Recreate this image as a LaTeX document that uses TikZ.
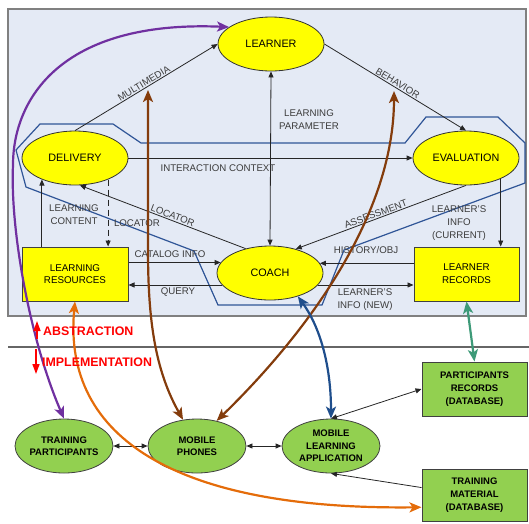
\documentclass[tikz,border=0pt]{standalone}
\usepackage{fontspec}
\setmainfont{Liberation Sans}
\usetikzlibrary{shapes.geometric,arrows.meta,calc}
\definecolor{panelbg}{RGB}{228,234,245}
\definecolor{panelborder}{RGB}{128,128,128}
\definecolor{ynode}{RGB}{255,255,0}
\definecolor{gnode}{RGB}{146,208,80}
\definecolor{polyblue}{RGB}{47,85,151}
\definecolor{cpurple}{RGB}{112,48,160}
\definecolor{cbrown}{RGB}{132,60,12}
\definecolor{corange}{RGB}{228,108,10}
\definecolor{cblue}{RGB}{31,78,140}
\definecolor{cgreen}{RGB}{61,154,120}
\definecolor{lblgray}{RGB}{60,60,60}
\tikzset{
  stip/.tip={Triangle[length=6pt,width=5pt]},
  btip/.tip={Stealth[length=12pt,width=10pt,inset=3pt]},
  rtip/.tip={Triangle[length=10pt,width=7pt]}
}
\begin{document}
\begin{tikzpicture}[x=1pt,y=-1pt,
  yell/.style={ellipse, draw=black!80, line width=0.8pt, fill=ynode, minimum width=106pt, minimum height=54pt, inner sep=0pt, font=\fontsize{10.8}{13}\selectfont},
  yrect/.style={rectangle, draw=black!75, line width=1pt, fill=ynode, minimum width=105pt, minimum height=54pt, inner sep=0pt, align=center, font=\fontsize{9.8}{12.7}\selectfont},
  gell/.style={ellipse, draw=black!75, line width=0.8pt, fill=gnode, minimum width=98pt, minimum height=54pt, inner sep=0pt, align=center, font=\bfseries\fontsize{9.5}{12.5}\selectfont},
  grect/.style={rectangle, draw=black!75, line width=1pt, fill=gnode, minimum width=105pt, minimum height=54pt, inner sep=0pt, align=center, font=\bfseries\fontsize{9.5}{13}\selectfont},
  lbl/.style={text=lblgray, font=\fontsize{9.7}{13}\selectfont, align=center, inner sep=1pt},
  conn/.style={draw=black!85, line width=0.8pt},
  fat/.style={line width=2.2pt, btip-btip},
  redlbl/.style={text=red, anchor=west, inner sep=0pt, font=\bfseries\fontsize{12.4}{14}\selectfont}
]
\useasboundingbox (0,0) rectangle (529,523);
% panel
\draw[fill=panelbg, draw=panelborder, line width=1.5pt] (8,9) rectangle (526,316);
\draw[draw=black!60, line width=1.3pt] (8,347) -- (529,347);
% blue polygon
\draw[polyblue, line width=1.2pt] (16,150) -- (40,124) -- (113,124) -- (141,143) -- (405,143) -- (426,117) -- (498,117) -- (525,143) -- (525,183) -- (344,250) -- (322,305) -- (218,305) -- (194,251) -- (26,187) -- cycle;

% nodes
\node[yell] (learner) at (271,44) {LEARNER};
\node[yell] (delivery) at (75,158) {DELIVERY};
\node[yell] (evaluation) at (466,158) {EVALUATION};
\node[yell] (coach) at (270,273) {COACH};
\node[yrect, minimum width=106pt] (lr) at (75,274) {LEARNING\\RESOURCES};
\node[yrect] (lrec) at (466.5,274) {LEARNER\\RECORDS};
\node[gell] (tp) at (64,446) {TRAINING\\PARTICIPANTS};
\node[gell] (mp) at (197,446) {MOBILE\\PHONES};
\node[gell] (mla) at (331,446) {MOBILE\\LEARNING\\APPLICATION};
\node[grect] (pr) at (474.5,389) {PARTICIPANTS\\RECORDS\\(DATABASE)};
\node[grect, minimum height=52pt] (tm) at (474.5,495) {TRAINING\\MATERIAL\\(DATABASE)};

% black connectors
\draw[conn,-stip] (delivery.north) -- node[lbl, sloped, above, pos=0.5] (lmulti) {MULTIMEDIA} (learner.west);
\draw[conn,-stip] (learner.east) -- node[lbl, sloped, above, pos=0.5] (lbehav) {BEHAVIOR} (evaluation.north);
\draw[conn,stip-stip] (coach.north) -- (learner.south);
\draw[conn,-stip] (delivery.east) -- (evaluation.west);
\draw[conn,-stip] (coach.135) -- node[lbl, sloped, above, pos=0.45] (lloc1) {LOCATOR} (delivery.-80);
\draw[conn,-stip, dash pattern=on 6pt off 4pt] (delivery.-33) -- (delivery.-33 |- lr.north);
\draw[conn,-stip] (delivery.213 |- lr.north) -- (delivery.213);
\draw[conn,-stip] (coach.168.5 -| lr.east) -- (coach.168.5);
\draw[conn,-stip] (coach.194) -- (coach.194 -| lr.east);
\draw[conn,-stip] (coach.11.5 -| lrec.west) -- (coach.11.5);
\draw[conn,-stip] (coach.-14) -- (coach.-14 -| lrec.west);
\draw[conn,-stip] (evaluation.south) -- node[lbl, sloped, above, pos=0.52] (lassess) {ASSESSMENT} (coach.43);
\draw[conn,-stip] (evaluation.-31.6) -- (evaluation.-31.6 |- lrec.north);

% free labels
\node[lbl] (lparam) at (309,119.5) {LEARNING\\PARAMETER};
\node[lbl] (linter) at (218,168) {INTERACTION CONTEXT};
\node[lbl] (lcontent) at (74,215) {LEARNING\\CONTENT};
\node[lbl] (lloc2) at (137,223) {LOCATOR};
\node[lbl] (lcat) at (170,254) {CATALOG INFO};
\node[lbl] (lquery) at (178,292) {QUERY};
\node[lbl] (lhist) at (366,250) {HISTORY/OBJ};
\node[lbl] (lnew) at (365,300) {LEARNER'S\\INFO (NEW)};
\node[lbl] (lcur) at (459,223.5) {LEARNER'S\\INFO\\(CURRENT)};

% bottom connectors
\draw[conn,stip-stip] (tp.east) -- (mp.west);
\draw[conn,stip-stip] (mp.east) -- (mla.west);
\draw[conn,stip-stip] (mla.north) -- (pr.west);
\draw[conn,-stip] (tm.172) -- (mla.south);

% colored curves
\coordinate (b1top) at (148,90);
\coordinate (b2top) at (394,91);
\draw[cpurple, fat] (tp.north) .. controls (30,340) and (10,230) .. (13,165) .. controls (13,100) and (60,20) .. (learner.158);
\draw[cbrown, fat] (mp.118) .. controls (155,370) and (148,320) .. (148,250) -- (b1top);
\draw[cbrown, fat] (mp.52) .. controls (300,340) and (394,220) .. (b2top);
\draw[corange, fat] (lr.south) .. controls (62,440) and (180,510) .. (tm.193);
\draw[cblue, fat] (coach.-40) .. controls (322,330) and (331,370) .. (mla.north);
\draw[cgreen, fat] (lrec.south) -- (pr.north);

% abstraction / implementation
\node[redlbl] (labs) at (43,331) {ABSTRACTION};
\node[redlbl] (limp) at (42,362) {IMPLEMENTATION};
\coordinate (absA) at (37,339);
\coordinate (absB) at (37,321);
\coordinate (impA) at (36,349);
\coordinate (impB) at (36,374);
\draw[red, line width=1.5pt, -rtip] (absA) -- (absB);
\draw[red, line width=1.5pt, -rtip] (impA) -- (impB);
\end{tikzpicture}
\end{document}
